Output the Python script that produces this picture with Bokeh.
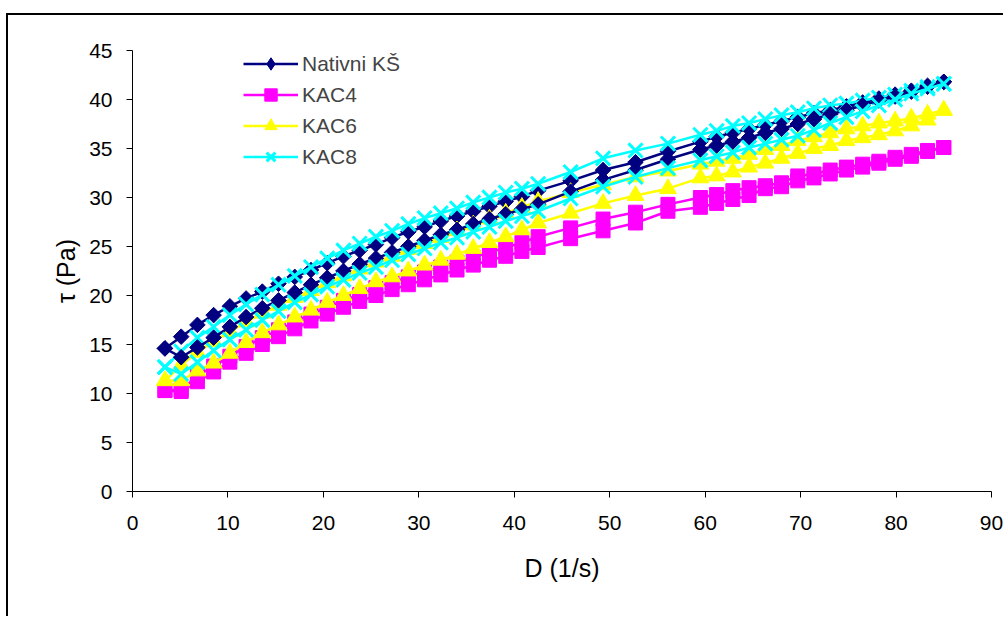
from bokeh.plotting import figure
from bokeh.models import Range1d, Legend, LegendItem, FixedTicker
from bokeh.embed import file_html
from bokeh.resources import INLINE
import numpy as np

# Shear rate D (1/s)
shear_rate = [3.4, 5.1, 6.8, 8.5, 10.2, 11.9, 13.6, 15.3, 17.0, 18.7, 20.4, 22.1, 23.8, 25.5,
              27.2, 28.9, 30.6, 32.3, 34.0, 35.7, 37.4, 39.1, 40.8, 42.5, 45.9, 49.3, 52.7, 56.1,
              59.5, 61.2, 62.9, 64.6, 66.3, 68.0, 69.7, 71.4, 73.1, 74.8, 76.5, 78.2, 79.9, 81.6,
              83.3, 85.0]

# Shear stress tau (Pa) - upper and lower branch of each hysteresis loop
nativni_up = [14.6, 15.8, 17.0, 18.0, 18.9, 19.7, 20.4, 21.2, 21.9, 22.6, 23.3, 24.0, 24.6, 25.2,
              25.9, 26.5, 27.0, 27.6, 28.1, 28.6, 29.1, 29.6, 30.1, 30.7, 31.7, 32.8, 33.6, 34.7,
              35.7, 36.2, 36.6, 37.0, 37.4, 37.8, 38.2, 38.6, 38.9, 39.3, 39.7, 40.1, 40.5, 40.9,
              41.4, 41.8]
nativni_down = [14.6, 13.7, 14.7, 15.7, 16.8, 17.8, 18.7, 19.5, 20.3, 21.1, 21.8, 22.5, 23.2, 23.8,
                24.4, 25.0, 25.6, 26.2, 26.7, 27.3, 27.8, 28.3, 28.8, 29.3, 30.6, 31.8, 32.8, 33.9,
                34.9, 35.3, 35.7, 36.1, 36.6, 37.0, 37.5, 38.0, 38.5, 38.9, 39.4, 39.9, 40.3, 40.8,
                41.3, 41.8]
kac4_up = [10.3, 10.4, 11.8, 12.8, 13.8, 14.8, 15.7, 16.5, 17.3, 18.1, 18.8, 19.5, 20.1, 20.8,
           21.3, 21.9, 22.4, 22.9, 23.4, 23.9, 24.4, 24.9, 25.4, 26.0, 26.9, 27.8, 28.5, 29.3,
           30.0, 30.3, 30.7, 31.0, 31.2, 31.5, 32.2, 32.4, 32.8, 33.1, 33.4, 33.7, 34.1, 34.4,
           34.8, 35.1]
kac4_down = [10.3, 10.2, 11.2, 12.2, 13.2, 14.1, 15.0, 15.8, 16.6, 17.4, 18.1, 18.8, 19.4, 20.0,
             20.6, 21.1, 21.6, 22.1, 22.6, 23.1, 23.6, 24.0, 24.5, 24.9, 25.8, 26.6, 27.4, 28.6,
             29.0, 29.4, 29.8, 30.2, 30.9, 31.1, 31.7, 32.0, 32.4, 32.8, 33.1, 33.5, 33.9, 34.2,
             34.7, 35.1]
kac6_up = [11.3, 12.9, 14.2, 15.3, 16.3, 17.3, 18.2, 19.0, 19.8, 20.5, 21.3, 22.0, 22.7, 23.4,
           24.0, 24.7, 25.3, 25.9, 26.6, 27.2, 27.8, 28.4, 29.0, 29.6, 30.5, 31.3, 32.1, 32.7,
           33.4, 33.7, 34.0, 34.4, 34.9, 35.3, 35.8, 36.2, 36.6, 37.0, 37.3, 37.6, 37.8, 38.1,
           38.5, 38.9]
kac6_down = [11.3, 11.3, 12.3, 13.1, 14.1, 15.2, 16.2, 17.0, 17.8, 18.5, 19.3, 20.0, 20.7, 21.4,
             21.9, 22.5, 23.1, 23.6, 24.2, 24.8, 25.4, 26.0, 26.7, 27.4, 28.4, 29.4, 30.2, 30.9,
             32.0, 32.2, 32.6, 33.1, 33.5, 34.0, 34.5, 35.0, 35.3, 35.8, 36.1, 36.4, 36.8, 37.3,
             37.9, 38.9]
kac8_up = [12.7, 14.3, 15.7, 16.8, 18.0, 19.1, 20.1, 21.1, 22.0, 22.9, 23.8, 24.6, 25.3, 26.0,
           26.6, 27.3, 27.9, 28.4, 28.9, 29.5, 30.0, 30.5, 30.9, 31.4, 32.6, 34.0, 34.8, 35.5,
           36.4, 36.8, 37.3, 37.6, 38.0, 38.4, 38.7, 39.1, 39.4, 39.6, 39.9, 40.2, 40.5, 40.9,
           41.3, 41.6]
kac8_down = [12.7, 12.0, 13.2, 14.4, 15.5, 16.5, 17.5, 18.4, 19.3, 20.1, 20.9, 21.6, 22.3, 22.9,
             23.6, 24.2, 24.8, 25.4, 25.9, 26.5, 27.0, 27.6, 28.1, 28.6, 29.9, 31.1, 32.1, 33.0,
             33.8, 34.2, 34.6, 35.1, 35.5, 35.9, 36.3, 36.9, 37.6, 38.2, 38.8, 39.4, 40.0, 40.6,
             41.1, 41.6]

series_names = ["Nativni KŠ", "KAC4", "KAC6", "KAC8"]
series_up = [nativni_up, kac4_up, kac6_up, kac8_up]
series_down = [nativni_down, kac4_down, kac6_down, kac8_down]
x_ticks = [0, 10, 20, 30, 40, 50, 60, 70, 80, 90]
y_ticks = [0, 5, 10, 15, 20, 25, 30, 35, 40, 45]

colors = ["#000080", "#FF00FF", "#FFFF00", "#00FFFF"]
markers = ["square", "square", "triangle", "x"]
legend_markers = ["diamond", "square", "triangle", "x"]
angles = [np.pi / 4, 0, 0, 0]
sizes = [11, 14, 17, 20]
mlw = [1, 1, 1, 3]

FONT = "Liberation Sans"

p = figure(width=997, height=603, x_range=Range1d(0, 90), y_range=Range1d(0, 45),
           output_backend="svg", toolbar_location=None,
           min_border_left=124, min_border_top=35, min_border_right=14, min_border_bottom=127)
# chart-area border (top and left edges, the rest runs off the picture)
p.styles = {"position": "relative", "left": "6px", "top": "13px",
            "border-left": "2px solid #000000", "border-top": "2px solid #000000"}
p.outline_line_color = None
p.xgrid.visible = False
p.ygrid.visible = False
p.background_fill_color = "white"
p.border_fill_color = "white"

for ax, ticks in ((p.xaxis, x_ticks), (p.yaxis, y_ticks)):
    ax.ticker = FixedTicker(ticks=ticks)
    ax.axis_line_color = "#000000"
    ax.axis_line_width = 1
    ax.major_tick_line_color = "#000000"
    ax.major_tick_out = 6
    ax.major_tick_in = 0
    ax.minor_tick_line_color = None
    ax.major_label_text_font = FONT
    ax.major_label_text_font_size = "21px"
    ax.major_label_text_color = "#000000"
    ax.axis_label_text_font = FONT
    ax.axis_label_text_font_size = "25px"
    ax.axis_label_text_font_style = "normal"
    ax.axis_label_text_color = "#000000"

p.xaxis.axis_label = "D (1/s)"
p.yaxis.axis_label = "τ (Pa)"
p.xaxis.major_label_standoff = 18
p.yaxis.major_label_standoff = 14
p.xaxis.axis_label_standoff = 21
p.yaxis.axis_label_standoff = 6

items = []
for branch in ("up", "down"):
    for i, name in enumerate(series_names):
        ys = series_up[i] if branch == "up" else series_down[i]
        lr = p.line(shear_rate, ys, line_color=colors[i], line_width=2.5)
        mr = p.scatter(shear_rate, ys, marker=markers[i], size=sizes[i], angle=angles[i],
                       fill_color=colors[i], line_color=colors[i], line_width=mlw[i])
        if branch == "up":
            # legend key glyph (legend keys are always drawn unrotated)
            kr = p.scatter([np.nan], [np.nan], marker=legend_markers[i], size=sizes[i],
                           fill_color=colors[i], line_color=colors[i], line_width=mlw[i])
            items.append(LegendItem(label=name, renderers=[lr, kr]))

legend = Legend(items=items, location=(111, 319), orientation="vertical",
                glyph_width=55, glyph_height=31, label_height=31, spacing=0,
                label_standoff=4, padding=0, margin=0,
                label_text_font=FONT, label_text_font_size="21px",
                background_fill_alpha=0, border_line_color=None)
p.add_layout(legend)

open("out.html", "w").write(file_html(p, INLINE))
